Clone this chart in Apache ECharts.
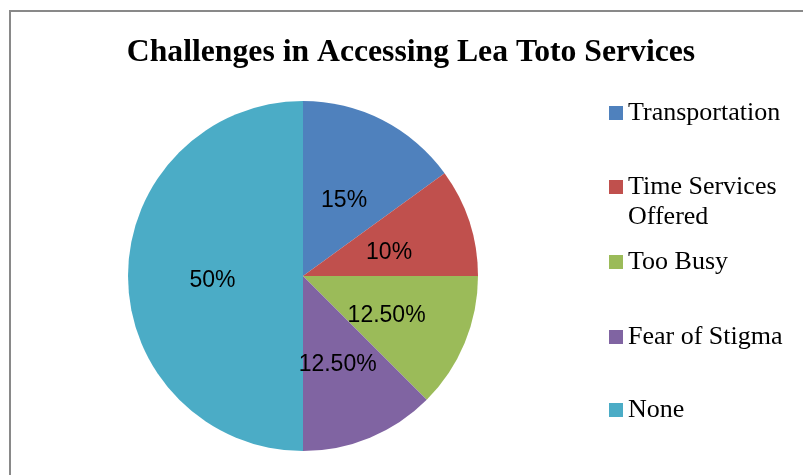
<!DOCTYPE html>
<html>
<head>
<meta charset="utf-8">
<script src="https://cdn.jsdelivr.net/npm/echarts@6/dist/echarts.min.js"></script>
<style>html,body{margin:0;padding:0;background:#fff;}#c{width:803px;height:475px;}</style>
</head>
<body>
<div id="c"></div>
<script>
var titleText = 'Challenges in Accessing Lea Toto Services';
var categories = ['Transportation', 'Time Services Offered', 'Too Busy', 'Fear of Stigma', 'None'];
var legendLabels = ['Transportation', ' \nTime Services\nOffered', 'Too Busy', 'Fear of Stigma', 'None'];
var values = [15, 10, 12.5, 12.5, 50];
var valueLabels = ['15%', '10%', '12.50%', '12.50%', '50%'];
var colors = ['#4F81BD', '#C0504D', '#9BBB59', '#8064A2', '#4BACC6'];

var chart = echarts.init(document.getElementById('c'), null, {renderer: 'canvas'});
var markerCenters = [113, 187, 262, 337, 410];
var lh = 30;
var legends = categories.map(function (name, i) {
  var nLines = legendLabels[i].split('\n').length;
  return {
    orient: 'vertical',
    left: 604,
    top: markerCenters[i] - nLines * lh / 2 - 5,
    itemWidth: 14,
    itemHeight: 14,
    icon: 'rect',
    data: [name],
    formatter: function () { return legendLabels[i]; },
    textStyle: {
      fontFamily: 'Liberation Serif',
      fontSize: 26,
      color: '#000',
      lineHeight: lh
    }
  };
});

chart.setOption({
  animation: false,
  color: colors,
  title: {
    text: titleText,
    left: 406,
    textAlign: 'center',
    top: 32,
    textStyle: {fontFamily: 'Liberation Serif', fontWeight: 'bold', fontSize: 31.7, color: '#000'}
  },
  graphic: [{
    type: 'rect',
    shape: {x: 10, y: 11, width: 820, height: 520},
    style: {fill: 'none', stroke: '#898989', lineWidth: 2},
    silent: true
  }],
  legend: legends,
  series: [{
    type: 'pie',
    center: [303, 276],
    radius: 175,
    startAngle: 90,
    clockwise: true,
    label: {
      position: 'inside',
      formatter: function (p) { return valueLabels[p.dataIndex]; },
      fontFamily: 'Liberation Sans',
      fontSize: 23,
      color: '#000',
      offset: [0, 5]
    },
    labelLine: {show: false},
    itemStyle: {borderWidth: 0},
    emphasis: {disabled: true},
    data: categories.map(function (c, i) { return {name: c, value: values[i]}; })
  }]
});
</script>
</body>
</html>
